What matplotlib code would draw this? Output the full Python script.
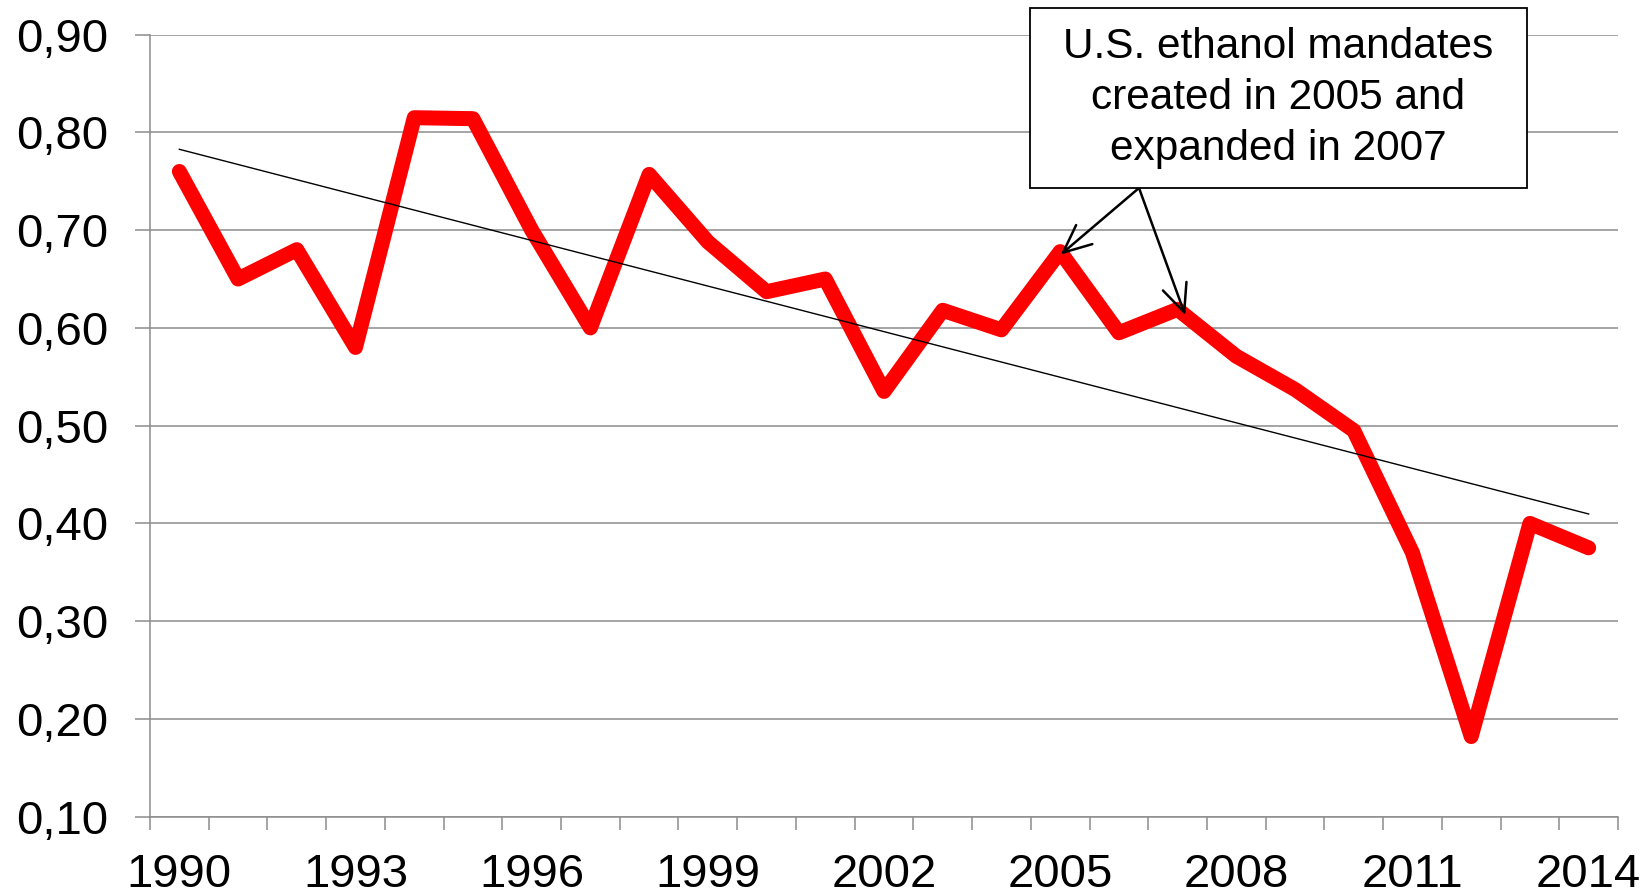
import numpy as np
import matplotlib
matplotlib.use("Agg")
import matplotlib.pyplot as plt
from matplotlib.ticker import FixedLocator, FuncFormatter
from matplotlib.patches import Rectangle

plt.rcParams['font.family'] = ['Liberation Sans', 'DejaVu Sans']

years = list(range(1990, 2015))
values = [0.76, 0.65, 0.68, 0.58, 0.815, 0.814, 0.70, 0.60, 0.757, 0.688,
          0.637, 0.65, 0.535, 0.618, 0.598, 0.678, 0.595, 0.619, 0.571, 0.537,
          0.495, 0.37, 0.182, 0.40, 0.375]
ytick_values = [0.10, 0.20, 0.30, 0.40, 0.50, 0.60, 0.70, 0.80, 0.90]
xtick_years = [1990, 1993, 1996, 1999, 2002, 2005, 2008, 2011, 2014]
note_text = "U.S. ethanol mandates\ncreated in 2005 and\nexpanded in 2007"
note_years = [2005, 2007]

W, H = 1646, 894
fig = plt.figure(figsize=(W / 100, H / 100), dpi=100)
ax = fig.add_axes([150 / W, 1 - 816.7 / H, (1618 - 150) / W, (816.7 - 34.6) / H])

x = np.arange(len(years))
grid_c = '#8c8c8c'

ax.plot(x, values, color='#ff0000', lw=10.8, solid_joinstyle='round',
        solid_capstyle='round', zorder=3)
slope, intercept = np.polyfit(x, values, 1)
ax.plot([x[0], x[-1]], [intercept + slope * x[0], intercept + slope * x[-1]],
        color='black', lw=1.0, zorder=4)

ax.set_xlim(-0.5, len(years) - 0.5)
ax.set_ylim(0.10, 0.90)

# y axis
ax.yaxis.set_major_locator(FixedLocator(ytick_values))
ax.yaxis.set_major_formatter(FuncFormatter(lambda v, p: f"{v:.2f}".replace('.', ',')))
ax.grid(axis='y', color=grid_c, lw=1.1, zorder=0)
ax.tick_params(axis='y', which='major', length=11, width=1.1, color=grid_c,
               labelsize=34, pad=19)

# x axis: labels at categories, ticks at category boundaries
ax.set_xticks([years.index(y) for y in xtick_years])
ax.set_xticklabels([str(y) for y in xtick_years])
ax.set_xticks(np.arange(-0.5, len(years) + 0.5, 1.0), minor=True)
ax.tick_params(axis='x', which='major', length=0, labelsize=34, pad=26)
ax.tick_params(axis='x', which='minor', length=9.5, width=1.1, color=grid_c)

for s in ['top', 'right']:
    ax.spines[s].set_visible(False)
for s in ['left', 'bottom']:
    ax.spines[s].set_color(grid_c)
    ax.spines[s].set_linewidth(1.1)
ax.set_axisbelow(True)

# annotation box
bx0, bx1, by0, by1 = 1030, 1527, 7.6, 188
fig.patches.append(Rectangle((bx0 / W, 1 - by1 / H), (bx1 - bx0) / W, (by1 - by0) / H,
                             transform=fig.transFigure, facecolor='white',
                             edgecolor='black', lw=1.3, zorder=5))
fig.text((bx0 + bx1) / 2 / W, 1 - 98 / H, note_text,
         ha='center', va='center', fontsize=30.5, linespacing=1.36, zorder=6)

tail = ((1139 - 150) / (1618 - 150), 1 - (188 - 34.6) / (816.7 - 34.6))
heads = [(years.index(note_years[0]) + 0.01, 0.675),
         (years.index(note_years[1]) + 0.13, 0.613)]
for hx, hy in heads:
    ax.annotate('', xy=(hx, hy), xytext=tail, textcoords='axes fraction',
                xycoords='data', annotation_clip=False,
                arrowprops=dict(arrowstyle='->,head_length=1.0,head_width=0.45',
                                mutation_scale=20, lw=1.8, color='black',
                                shrinkA=0, shrinkB=0), zorder=6)

fig.savefig('out.png', dpi=100)
